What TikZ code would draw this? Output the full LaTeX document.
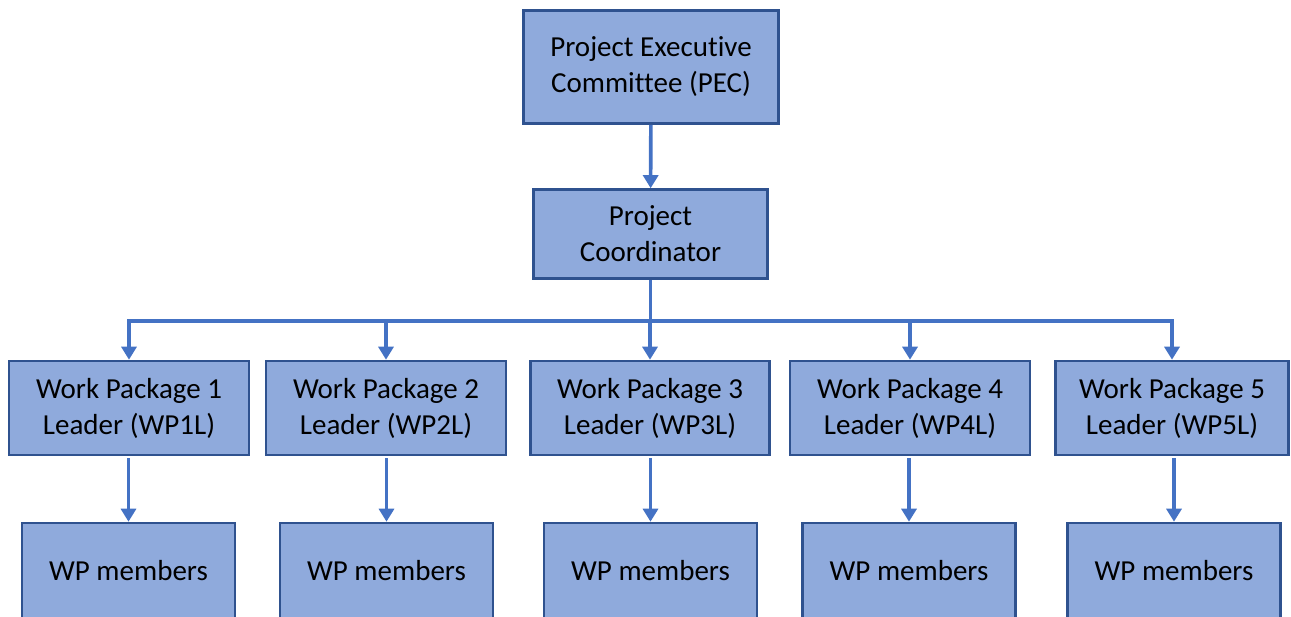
\documentclass[tikz,border=0pt]{standalone}
\usepackage{fontspec}
\setmainfont[Ligatures={TeX,NoCommon}]{Carlito}
\usetikzlibrary{arrows.meta}
\definecolor{boxfill}{HTML}{8FAADC}
\definecolor{boxline}{HTML}{2F528F}
\definecolor{linkblue}{HTML}{4472C4}
\tikzset{
    orgbox/.style={draw=boxline, fill=boxfill, line width=2.6pt, align=center, inner sep=0pt,
        font=\fontsize{29}{36}\selectfont},
    orglink/.style={linkblue, line width=3.6pt, -{Triangle[width=15pt,length=13pt]}}
}
\begin{document}
\begin{tikzpicture}[x=1pt, y=-1pt]
    \useasboundingbox (0,0) rectangle (1291,617);
    \clip (0,0) rectangle (1291,617);

    % Executive committee and coordinator
    \node[orgbox, minimum width=255pt, minimum height=113pt] (pec) at (651,67) {Project Executive\\Committee (PEC)};
    \node[orgbox, minimum width=234pt, minimum height=89pt] (coord) at (650.5,234) {Project\\Coordinator};
    \draw[orglink] (pec) -- (coord);

    % Junction of the distribution line
    \coordinate (bus) at (651,321);

    % Work package leaders and their members
    \foreach \i/\x/\w/\m in {1/129/240/128.5, 2/386/240/386.5, 3/650/239/650.5, 4/910/240/909, 5/1172/233/1174}
    {
        \node[orgbox, minimum width=\w pt, minimum height=94pt] (wp\i) at (\x,408) {Work Package \i\\Leader (WP\i L)};
        \node[orgbox, minimum width=213pt, minimum height=96pt] (mem\i) at (\m,571) {WP members};
        \draw[orglink] (coord.south) -- (coord.south |- bus) -| (wp\i.north);
        \draw[orglink, shorten <=2pt] (wp\i.south -| mem\i) -- (mem\i.north);
    }
\end{tikzpicture}
\end{document}
